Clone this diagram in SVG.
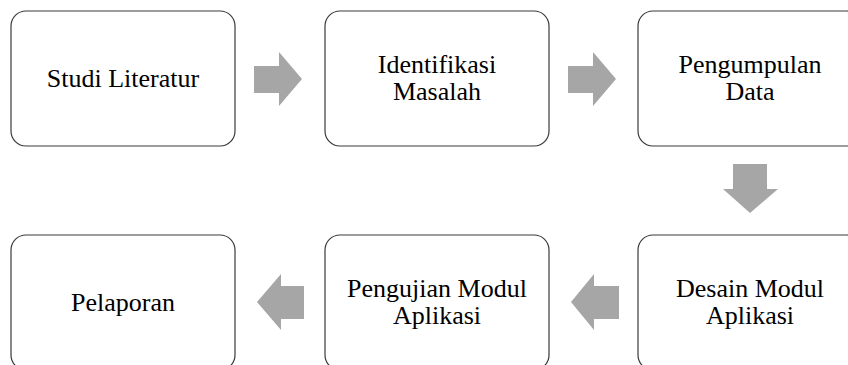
<svg xmlns="http://www.w3.org/2000/svg" width="848" height="365" viewBox="0 0 848 365">
<style>
.box{fill:#fff;stroke:#3a3a3a;stroke-width:1.2}
.t{font-family:"Liberation Serif","Times New Roman",serif;font-size:26px;fill:#000;text-anchor:middle}
.arr{fill:#a6a6a6}
</style>
<rect width="848" height="365" fill="#fff"/>
<g id="n1"><rect class="box" x="11" y="11" width="224" height="135" rx="15"/><text class="t" x="123" y="87">Studi Literatur</text></g>
<g id="n2"><rect class="box" x="325" y="11" width="224" height="135" rx="15"/><text class="t" x="437" y="72.5">Identifikasi</text><text class="t" x="437" y="99.5">Masalah</text></g>
<g id="n3"><rect class="box" x="638" y="11" width="224" height="135" rx="15"/><text class="t" x="750" y="72.5">Pengumpulan</text><text class="t" x="750" y="99.5">Data</text></g>
<g id="n4"><rect class="box" x="638" y="235" width="224" height="135" rx="15"/><text class="t" x="750" y="296.5">Desain Modul</text><text class="t" x="750" y="323.5">Aplikasi</text></g>
<g id="n5"><rect class="box" x="325" y="235" width="224" height="135" rx="15"/><text class="t" x="437" y="296.5">Pengujian Modul</text><text class="t" x="437" y="323.5">Aplikasi</text></g>
<g id="n6"><rect class="box" x="11" y="235" width="224" height="135" rx="15"/><text class="t" x="123" y="311">Pelaporan</text></g>
<g id="connectors">
<polygon class="arr" points="254,66 279,66 279,52 302,79 279,106 279,93 254,93"/>
<polygon class="arr" points="568,66 593,66 593,52 616,79 593,106 593,93 568,93"/>
<polygon class="arr" points="733,164 767,164 767,189 778,189 750,213 723,189 733,189"/>
<polygon class="arr" points="619,286 594,286 594,274 571,302 594,330 594,319 619,319"/>
<polygon class="arr" points="304,286 281,286 281,274 257,302 281,330 281,319 304,319"/>
</g>
</svg>
